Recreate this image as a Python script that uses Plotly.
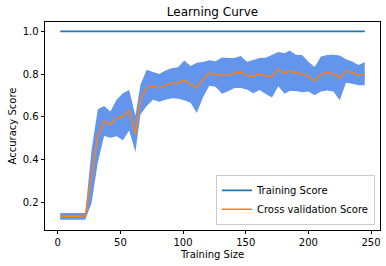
import plotly.graph_objects as go

train_sizes = [2, 7, 12, 17, 22, 27, 32, 37, 42, 47,
               52, 57, 62, 66, 71, 76, 81, 86, 91, 96,
               101, 106, 111, 116, 121, 126, 131, 136, 141, 146,
               151, 156, 161, 166, 171, 176, 181, 185, 190, 195,
               200, 205, 210, 215, 220, 225, 230, 235, 240, 245]

train_mean = [1.0, 1.0, 1.0, 1.0, 1.0, 1.0, 1.0, 1.0, 1.0, 1.0,
              1.0, 1.0, 1.0, 1.0, 1.0, 1.0, 1.0, 1.0, 1.0, 1.0,
              1.0, 1.0, 1.0, 1.0, 1.0, 1.0, 1.0, 1.0, 1.0, 1.0,
              1.0, 1.0, 1.0, 1.0, 1.0, 1.0, 1.0, 1.0, 1.0, 1.0,
              1.0, 1.0, 1.0, 1.0, 1.0, 1.0, 1.0, 1.0, 1.0, 1.0]

test_mean = [0.133, 0.133, 0.133, 0.133, 0.133, 0.32, 0.51, 0.58, 0.563, 0.594,
             0.60, 0.63, 0.52, 0.68, 0.735, 0.745, 0.735, 0.748, 0.757, 0.758,
             0.77, 0.752, 0.735, 0.775, 0.805, 0.80, 0.793, 0.797, 0.805, 0.81,
             0.793, 0.788, 0.80, 0.792, 0.79, 0.823, 0.803, 0.815, 0.805, 0.802,
             0.788, 0.767, 0.80, 0.806, 0.804, 0.782, 0.814, 0.807, 0.795, 0.802]

test_std = [0.016, 0.016, 0.016, 0.016, 0.016, 0.125, 0.125, 0.07, 0.062, 0.085,
            0.11, 0.095, 0.085, 0.07, 0.085, 0.065, 0.065, 0.069, 0.07, 0.074,
            0.093, 0.086, 0.118, 0.082, 0.06, 0.06, 0.085, 0.078, 0.07, 0.075,
            0.065, 0.078, 0.075, 0.085, 0.1, 0.08, 0.095, 0.095, 0.085, 0.087,
            0.07, 0.066, 0.082, 0.083, 0.086, 0.105, 0.055, 0.052, 0.047, 0.055]

x_ticks = [0, 50, 100, 150, 200, 250]
y_ticks = [0.2, 0.4, 0.6, 0.8, 1.0]
y_tick_text = ["0.2", "0.4", "0.6", "0.8", "1.0"]

upper = [m + s for m, s in zip(test_mean, test_std)]
lower = [m - s for m, s in zip(test_mean, test_std)]

FONT = "DejaVu Sans"
fig = go.Figure()

fig.add_trace(go.Scatter(x=train_sizes, y=lower, mode="lines",
                         line=dict(width=0, color="#6495ED"),
                         showlegend=False, hoverinfo="skip"))
fig.add_trace(go.Scatter(x=train_sizes, y=upper, mode="lines",
                         line=dict(width=0, color="#6495ED"),
                         fill="tonexty", fillcolor="#6495ED",
                         showlegend=False, hoverinfo="skip"))
fig.add_trace(go.Scatter(x=train_sizes, y=train_mean, mode="lines",
                         name="Training Score",
                         line=dict(color="#1f77b4", width=1.8)))
fig.add_trace(go.Scatter(x=train_sizes, y=test_mean, mode="lines",
                         name="Cross validation Score",
                         line=dict(color="#ff7f0e", width=1.5)))

axis_common = dict(showline=True, mirror=True, linecolor="black", linewidth=0.8,
                   ticks="outside", ticklen=3.5, tickwidth=0.8, tickcolor="black",
                   showgrid=False, zeroline=False,
                   tickfont=dict(family=FONT, size=10, color="black"))

fig.update_layout(
    width=386, height=266,
    margin=dict(l=45, r=6, t=22, b=36, pad=0),
    paper_bgcolor="white", plot_bgcolor="white",
    font=dict(family=FONT, size=10, color="black"),
    title=dict(text="Learning Curve", x=0.5, xref="paper", xanchor="center",
               y=1, yref="paper", yanchor="bottom", pad=dict(b=6),
               font=dict(family=FONT, size=12, color="black")),
    xaxis=dict(range=[-10.15, 257.15], tickvals=x_ticks,
               title=dict(text="Training Size", standoff=3,
                          font=dict(family=FONT, size=10, color="black")),
               **axis_common),
    yaxis=dict(range=[0.069, 1.044], tickvals=y_ticks, ticktext=y_tick_text,
               title=dict(text="Accuracy Score", standoff=4,
                          font=dict(family=FONT, size=10, color="black")),
               **axis_common),
    legend=dict(x=0.985, y=0.025, xanchor="right", yanchor="bottom",
                traceorder="normal",
                bgcolor="rgba(255,255,255,0.8)", bordercolor="#cccccc", borderwidth=1,
                font=dict(family=FONT, size=10, color="black"),
                tracegroupgap=0, itemwidth=30),
)

fig.write_html("out.html",
               config={"displayModeBar": False},
               post_script="document.body.style.margin='0';document.body.style.padding='0';")
